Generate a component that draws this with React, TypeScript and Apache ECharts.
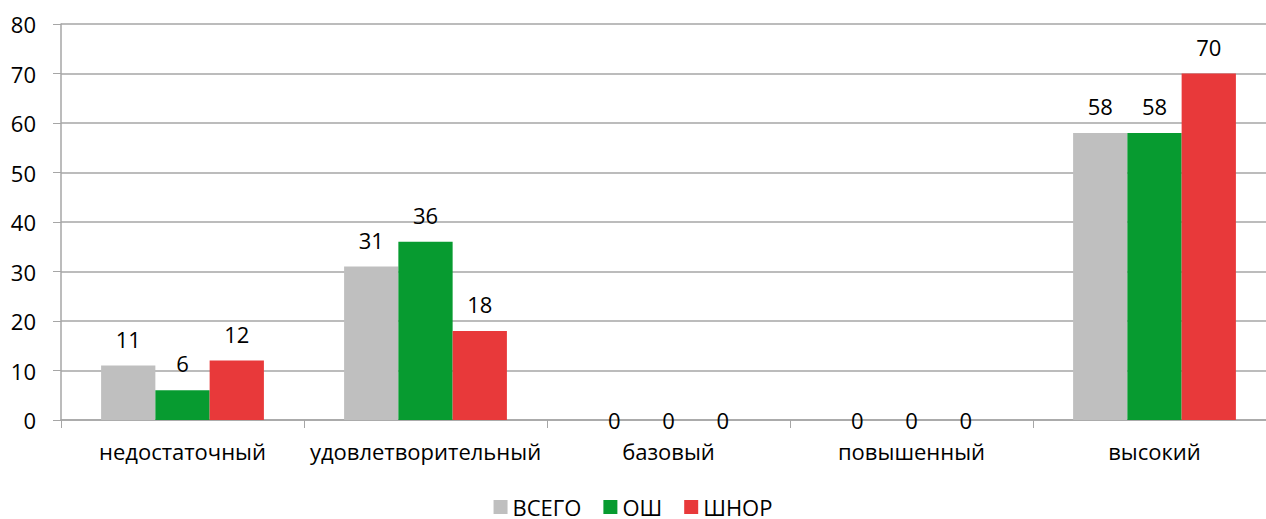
import React, { useEffect, useRef } from "react";
import * as echarts from "echarts";

const categories = ["недостаточный", "удовлетворительный", "базовый", "повышенный", "высокий"];
const seriesNames = ["ВСЕГО", "ОШ", "ШНОР"];
const vsego = [11, 31, 0, 0, 58];
const osh = [6, 36, 0, 0, 58];
const shnor = [12, 18, 0, 0, 70];
const yTicks = { min: 0, max: 80, interval: 10 };

const colors = ["#BFBFBF", "#079B30", "#E8393A"];
const FONT = "Open Sans";

export default function App() {
  const ref = useRef<HTMLDivElement>(null);
  useEffect(() => {
    document.body.style.margin = "0";
    if (!ref.current) return;
    const chart = echarts.init(ref.current, undefined, { renderer: "svg" });
    const mk = (name: string, vals: number[], i: number) => ({
      name,
      type: "bar",
      barGap: "0%",
      barCategoryGap: "33%",
      itemStyle: { color: colors[i] },
      label: {
        show: true,
        position: "top",
        distance: 16,
        color: "#000",
        fontFamily: FONT,
        fontSize: 22,
      },
      data: vals.map((v) =>
        v === 0 ? { value: v, label: { offset: [0, 27] } } : v
      ),
    });
    chart.setOption({
      animation: false,
      textStyle: { fontFamily: FONT },
      grid: { left: 61, width: 1215, top: 24, bottom: 99, outerBoundsMode: "none" },
      legend: {
        top: 496,
        left: "center",
        padding: 0,
        itemWidth: 14,
        itemHeight: 14,
        itemGap: 22,
        icon: "rect",
        textStyle: { fontFamily: FONT, fontSize: 22, lineHeight: 22, color: "#000" },
        data: seriesNames,
      },
      xAxis: {
        type: "category",
        data: categories,
        axisLine: { lineStyle: { color: "#A6A6A6", width: 1.5 } },
        axisTick: { show: true, length: 8, lineStyle: { color: "#A6A6A6" } },
        axisLabel: { interval: 0, fontFamily: FONT, fontSize: 22, color: "#000", margin: 20 },
      },
      yAxis: {
        type: "value",
        min: yTicks.min,
        max: yTicks.max,
        interval: yTicks.interval,
        axisLine: { show: true, lineStyle: { color: "#A6A6A6", width: 1.5 } },
        axisTick: { show: true, length: 8, lineStyle: { color: "#A6A6A6" } },
        splitLine: { lineStyle: { color: "#A6A6A6", width: 1.5 } },
        axisLabel: { fontFamily: FONT, fontSize: 22, color: "#000", margin: 25 },
      },
      series: [mk(seriesNames[0], vsego, 0), mk(seriesNames[1], osh, 1), mk(seriesNames[2], shnor, 2)],
    });
    return () => chart.dispose();
  }, []);
  return <div ref={ref} style={{ width: 1266, height: 519 }} />;
}
